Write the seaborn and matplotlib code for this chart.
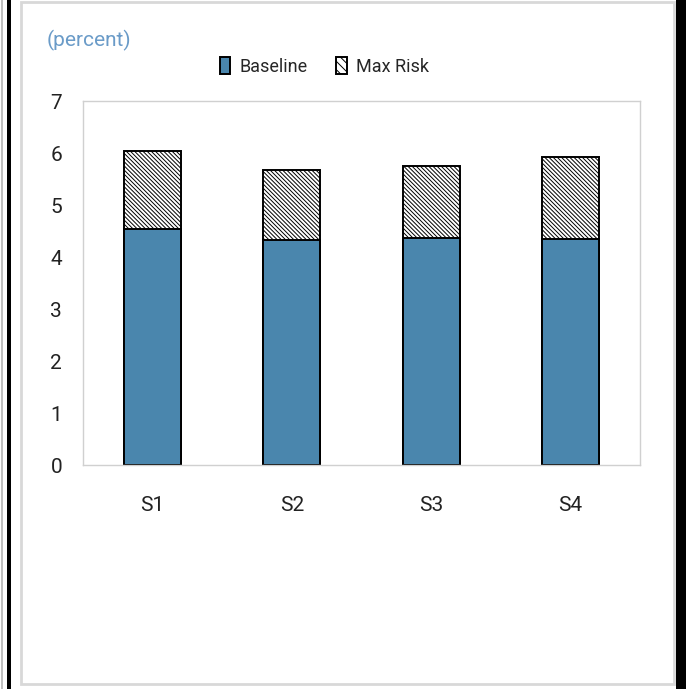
import matplotlib
matplotlib.use("Agg")
import matplotlib.pyplot as plt
from matplotlib.patches import Rectangle, Patch
import seaborn as sns
import pandas as pd

# Scenario data (percent)
scenarios = ["S1", "S2", "S3", "S4"]
baseline = [4.54, 4.33, 4.37, 4.35]
max_risk_total = [6.04, 5.67, 5.75, 5.92]
y_ticks = [0, 1, 2, 3, 4, 5, 6, 7]

sns.set_theme(style="white")
plt.rcParams["font.family"] = ["Roboto", "DejaVu Sans"]
plt.rcParams["hatch.linewidth"] = 0.7
plt.rcParams["hatch.color"] = "#111111"

HATCH = "\\" * 8

df = pd.DataFrame({"scenario": scenarios, "baseline": baseline, "total": max_risk_total})

fig = plt.figure(figsize=(6.86, 6.89), dpi=100)
ax = fig.add_axes([0.121, 0.325, 0.812, 0.528])

blue = "#4a86ad"
# Total height drawn hatched, baseline drawn over it
sns.barplot(data=df, x="scenario", y="total", ax=ax, color="white", width=0.41,
            edgecolor="black", linewidth=1.4, saturation=1)
for p in ax.patches:
    p.set_hatch(HATCH)
n_total = len(ax.patches)
sns.barplot(data=df, x="scenario", y="baseline", ax=ax, color=blue, width=0.41,
            edgecolor="black", linewidth=1.4, saturation=1)

ax.set_ylim(0, 7)
ax.set_yticks(y_ticks)
ax.set_xlim(-0.5, 3.5)
ax.set_xlabel("")
ax.set_ylabel("")
for s in ax.spines.values():
    s.set_color("#d0d0d0")
    s.set_linewidth(1.0)
ax.tick_params(axis="y", length=0, pad=15, labelsize=15, labelcolor="#222222")
ax.tick_params(axis="x", which="major", length=0, pad=22, labelsize=15, labelcolor="#222222")
ax.set_xticks([0.5, 1.5, 2.5], minor=True)
ax.tick_params(axis="x", which="minor", direction="in", length=6, color="#c8c8c8", width=1)

fig.text(0.068, 0.942, "(percent)", color="#6a9bc8", fontsize=15, va="center", ha="left")

handles = [Patch(facecolor=blue, edgecolor="black", linewidth=1.4, label="Baseline"),
           Patch(facecolor="white", edgecolor="black", linewidth=1.4, hatch="\\\\\\\\", label="Max Risk")]
fig.legend(handles=handles, loc="center", bbox_to_anchor=(0.473, 0.904), ncol=2, frameon=False,
           fontsize=13, handlelength=0.6, handleheight=1.1, handletextpad=0.5, columnspacing=1.6)

# Page frame around the chart
W, H = 686, 689
def rect(x0, y0, x1, y1, **kw):
    fig.add_artist(Rectangle((x0 / W, 1 - y1 / H), (x1 - x0) / W, (y1 - y0) / H,
                             transform=fig.transFigure, **kw))
rect(21, 2, 674, 684, fill=False, edgecolor="#d8d8d8", linewidth=2)
rect(7, 0, 10.5, 689, facecolor="black", edgecolor="none")
rect(676, 0, 686, 689, facecolor="black", edgecolor="none")
rect(1, 0, 3, 689, facecolor="#c0c0c0", edgecolor="none")

fig.savefig("out.png", dpi=100)
